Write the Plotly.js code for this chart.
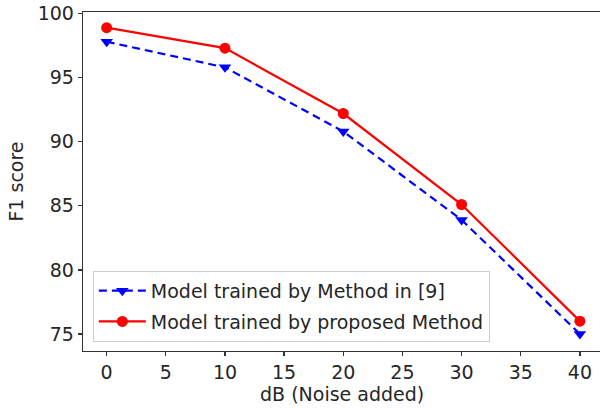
<!DOCTYPE html>
<html>
<head>
<meta charset="utf-8">
<script src="https://cdn.plot.ly/plotly-3.0.1.min.js"></script>
<style>html,body{margin:0;padding:0;background:#fff;}#chart{width:600px;height:408px;}</style>
</head>
<body>
<div id="chart"></div>
<script>
const noiseDb = [0, 10, 20, 30, 40];
const methodRef9 = [97.8, 95.8, 90.8, 83.9, 75.0];
const proposedMethod = [98.9, 97.3, 92.2, 85.1, 76.0];
const xTicks = [0, 5, 10, 15, 20, 25, 30, 35, 40];
const yTicks = [75, 80, 85, 90, 95, 100];
const seriesNames = ['Model trained by Method in [9]', 'Model trained by proposed Method'];
const xTitle = 'dB (Noise added)';
const yTitle = 'F1 score';

const font = {family: 'DejaVu Sans, sans-serif', size: 19, color: '#262626'};

const traces = [
  {
    x: noiseDb, y: methodRef9, name: seriesNames[0], type: 'scatter', mode: 'lines+markers',
    line: {color: '#0000ff', width: 2.2, dash: '8px,5px'},
    marker: {symbol: 'triangle-down', size: 11, color: '#0000ff'},
    legendgroup: 'a'
  },
  {
    x: noiseDb, y: proposedMethod, name: seriesNames[1], type: 'scatter', mode: 'lines+markers',
    line: {color: '#ff0000', width: 2.2},
    marker: {symbol: 'circle', size: 11, color: '#ff0000'},
    legendgroup: 'b'
  }
];

const layout = {
  width: 600, height: 408,
  margin: {l: 83, r: 0, t: 12, b: 57},
  paper_bgcolor: '#fff', plot_bgcolor: '#fff',
  font: font,
  showlegend: true,
  legend: {
    x: 0.019, y: 0.027, xanchor: 'left', yanchor: 'bottom',
    bgcolor: 'rgba(255,255,255,0.8)', bordercolor: '#cccccc', borderwidth: 1,
    font: font, traceorder: 'grouped', tracegroupgap: 3, itemwidth: 47
  },
  xaxis: {
    range: [-2, 41.7], tickvals: xTicks, ticktext: xTicks.map(String),
    showgrid: false, zeroline: false, showline: true, linecolor: '#333', linewidth: 1.3,
    mirror: true, ticks: 'outside', ticklen: 4, tickcolor: '#333', tickwidth: 1.3,
    tickfont: font
  },
  yaxis: {
    range: [73.67, 100.12], tickvals: yTicks, ticktext: yTicks.map(String),
    showgrid: false, zeroline: false, showline: true, linecolor: '#333', linewidth: 1.3,
    ticks: 'outside', ticklen: 4, tickcolor: '#333', tickwidth: 1.3,
    tickfont: font,
    title: {text: yTitle, font: font, standoff: 9}
  },
  annotations: [{
    text: xTitle, xref: 'paper', yref: 'paper', x: 0.5, y: -0.126,
    xanchor: 'center', yanchor: 'middle', showarrow: false, font: font, borderpad: 0
  }]
};

Plotly.newPlot('chart', traces, layout, {displayModeBar: false, staticPlot: true});
</script>
</body>
</html>
